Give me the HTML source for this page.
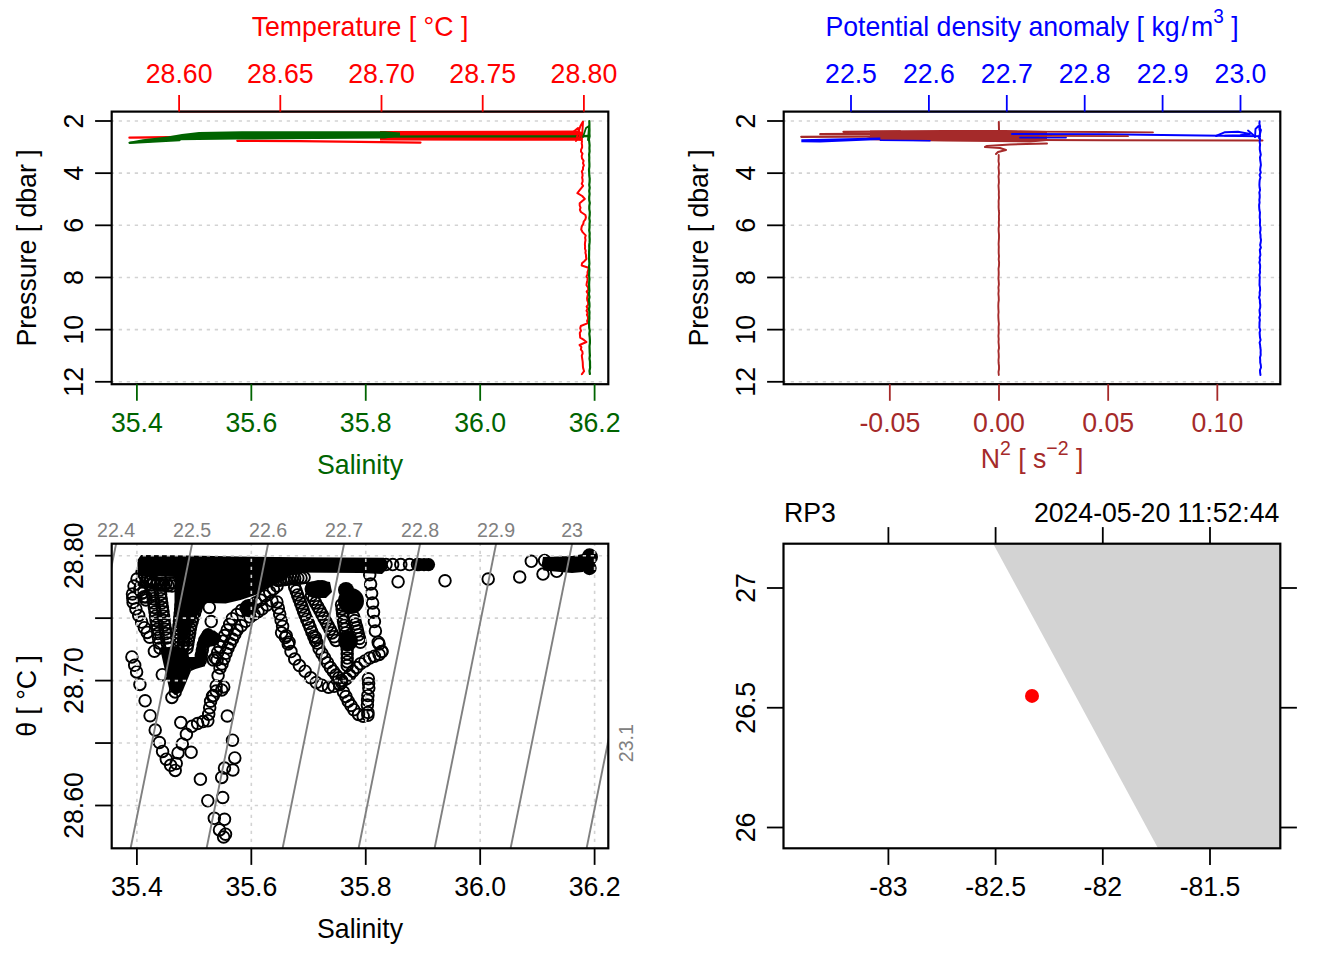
<!DOCTYPE html>
<html><head><meta charset="utf-8"><style>
html,body{margin:0;padding:0;background:#fff;overflow:hidden}
svg{display:block}
text{font-family:"Liberation Sans",sans-serif;dominant-baseline:auto}
</style></head><body>
<svg width="1344" height="960" viewBox="0 0 1344 960">
<rect x="0" y="0" width="1344" height="960" fill="#fff"/>
<line x1="111.70" y1="121.00" x2="608.30" y2="121.00" stroke="#d3d3d3" stroke-width="1.6" stroke-dasharray="3.3 4.7" stroke-dashoffset="0.95"/>
<line x1="111.70" y1="173.16" x2="608.30" y2="173.16" stroke="#d3d3d3" stroke-width="1.6" stroke-dasharray="3.3 4.7" stroke-dashoffset="0.95"/>
<line x1="111.70" y1="225.32" x2="608.30" y2="225.32" stroke="#d3d3d3" stroke-width="1.6" stroke-dasharray="3.3 4.7" stroke-dashoffset="0.95"/>
<line x1="111.70" y1="277.48" x2="608.30" y2="277.48" stroke="#d3d3d3" stroke-width="1.6" stroke-dasharray="3.3 4.7" stroke-dashoffset="0.95"/>
<line x1="111.70" y1="329.64" x2="608.30" y2="329.64" stroke="#d3d3d3" stroke-width="1.6" stroke-dasharray="3.3 4.7" stroke-dashoffset="0.95"/>
<line x1="111.70" y1="381.80" x2="608.30" y2="381.80" stroke="#d3d3d3" stroke-width="1.6" stroke-dasharray="3.3 4.7" stroke-dashoffset="0.95"/>
<line x1="95.10" y1="121.00" x2="111.70" y2="121.00" stroke="#000" stroke-width="1.8"/>
<text transform="translate(83.40 121.00) rotate(-90) scale(1 1.05)" font-size="26.67" fill="#000" text-anchor="middle">2</text>
<line x1="95.10" y1="173.16" x2="111.70" y2="173.16" stroke="#000" stroke-width="1.8"/>
<text transform="translate(83.40 173.16) rotate(-90) scale(1 1.05)" font-size="26.67" fill="#000" text-anchor="middle">4</text>
<line x1="95.10" y1="225.32" x2="111.70" y2="225.32" stroke="#000" stroke-width="1.8"/>
<text transform="translate(83.40 225.32) rotate(-90) scale(1 1.05)" font-size="26.67" fill="#000" text-anchor="middle">6</text>
<line x1="95.10" y1="277.48" x2="111.70" y2="277.48" stroke="#000" stroke-width="1.8"/>
<text transform="translate(83.40 277.48) rotate(-90) scale(1 1.05)" font-size="26.67" fill="#000" text-anchor="middle">8</text>
<line x1="95.10" y1="329.64" x2="111.70" y2="329.64" stroke="#000" stroke-width="1.8"/>
<text transform="translate(83.40 329.64) rotate(-90) scale(1 1.05)" font-size="26.67" fill="#000" text-anchor="middle">10</text>
<line x1="95.10" y1="381.80" x2="111.70" y2="381.80" stroke="#000" stroke-width="1.8"/>
<text transform="translate(83.40 381.80) rotate(-90) scale(1 1.05)" font-size="26.67" fill="#000" text-anchor="middle">12</text>
<text transform="translate(35.70 247.90) rotate(-90) scale(1 1.05)" font-size="26.67" fill="#000" text-anchor="middle">Pressure [ dbar ]</text>
<g id="tl-data"><polyline points="237.3,140.8 300.0,141.2 420.5,142.6" fill="none" stroke="#ff0000" stroke-width="2.2" stroke-linejoin="round" stroke-linecap="round"/><polyline points="129.5,137.6 167.6,137.2 181.0,137.0" fill="none" stroke="#ff0000" stroke-width="2.4" stroke-linejoin="round" stroke-linecap="round"/><polygon points="380.0,131.0 577.0,130.5 582.0,132.0 582.0,141.0 577.0,140.8 380.0,140.5" fill="#ff0000"/><polygon points="129.5,141.8 143.0,139.2 167.6,136.6 181.9,134.0 199.0,132.0 242.0,131.3 385.0,131.3 400.0,132.5 400.0,136.0 385.0,138.5 280.0,139.2 236.7,139.6 179.5,140.2 129.5,143.4" fill="#006400"/><polyline points="385.0,136.6 440.0,136.4 575.0,136.4 589.0,136.0" fill="none" stroke="#006400" stroke-width="2.4" stroke-linejoin="round" stroke-linecap="round"/><polyline points="129.5,142.8 179.5,140.2" fill="none" stroke="#006400" stroke-width="2.2" stroke-linejoin="round" stroke-linecap="round"/><polyline points="581.4,139.2 582.0,141.3 581.7,143.3 582.1,145.4 582.1,147.5 581.1,149.6 581.0,151.6 582.5,153.7 581.7,156.0 582.0,158.4 583.6,160.7 583.0,163.1 583.9,165.4 583.0,167.4 583.0,169.5 581.8,171.5 582.4,173.6 582.6,175.6 582.1,177.6 582.6,179.7 582.6,181.7 581.7,183.8 583.1,185.8 581.3,188.2 579.3,190.7 577.4,193.1 582.2,196.0 584.8,198.9 582.3,201.1 579.7,203.3 579.7,205.5 580.5,207.7 579.9,209.8 580.9,212.0 585.4,215.0 585.9,217.2 585.4,219.3 583.7,221.5 583.3,223.7 581.7,226.6 581.2,229.5 582.8,232.4 585.7,235.4 585.1,237.7 585.5,240.0 585.1,242.2 584.9,244.3 585.1,246.5 585.0,248.7 585.7,250.8 585.4,252.8 586.0,254.9 586.0,256.9 586.4,259.0 584.3,261.2 582.0,263.3 581.7,265.5 588.5,267.7 588.3,269.9 587.5,272.0 587.6,274.2 586.5,276.4 587.7,278.6 587.3,280.8 586.8,283.0 586.5,285.2 588.0,287.4 588.3,289.5 586.7,291.7 588.1,293.9 587.5,296.1 587.1,298.3 587.3,300.4 588.1,302.4 588.2,304.5 586.6,306.6 587.6,308.6 586.5,310.7 587.7,312.8 586.9,314.8 587.9,316.9 588.0,319.0 587.1,321.0 587.9,323.1 580.8,326.0 580.2,328.3 581.0,330.7 579.8,333.0 580.0,335.4 580.2,337.7 583.9,339.9 586.4,342.0 579.6,345.0 581.4,347.2 580.8,349.4 582.4,351.5 582.6,353.7 581.8,355.7 582.1,357.8 582.4,359.8 582.7,361.9 582.8,363.9 582.9,366.3 583.3,368.8 584.1,371.2 581.9,374.1" fill="none" stroke="#ff0000" stroke-width="2.0" stroke-linejoin="round" stroke-linecap="round"/><polyline points="577.0,137.0 580.4,126.0 583.0,121.5 581.9,139.2" fill="none" stroke="#ff0000" stroke-width="2.0" stroke-linejoin="round" stroke-linecap="round"/><polyline points="572.0,133.0 578.0,128.0 580.0,136.0 576.0,141.0" fill="none" stroke="#ff0000" stroke-width="2.0" stroke-linejoin="round" stroke-linecap="round"/><polyline points="589.3,121.0 589.4,124.0 589.4,127.1 589.5,130.1 589.4,133.2 589.6,136.2 588.9,139.2 589.3,142.3 589.6,145.3 589.4,148.3 589.6,151.4 589.1,154.4 589.3,157.5 589.2,160.5 589.4,163.5 589.4,166.6 589.0,169.6 589.2,172.7 589.3,175.7 589.7,178.7 589.6,181.8 589.2,184.8 589.7,187.8 589.2,190.9 589.6,193.9 589.2,197.0 589.2,200.0 589.8,203.0 589.3,206.1 589.3,209.1 589.8,212.1 589.7,215.2 589.3,218.2 589.8,221.2 589.5,224.2 589.5,227.3 589.2,230.3 589.7,233.3 589.5,236.4 589.7,239.4 589.6,242.4 589.2,245.5 589.3,248.5 589.1,251.5 589.1,254.5 589.0,257.6 589.2,260.6 589.4,263.6 589.0,266.7 589.4,269.7 589.2,272.7 589.1,275.8 589.5,278.8 589.2,281.8 589.1,284.8 589.2,287.9 589.4,290.9 588.9,293.9 589.5,297.0 588.9,300.0 589.4,303.1 589.5,306.2 589.0,309.2 589.5,312.3 589.3,315.4 589.4,318.5 589.1,321.6 589.1,324.7 589.2,327.8 589.8,330.8 589.3,333.9 589.7,337.0 589.9,340.1 589.9,343.2 589.5,346.2 589.6,349.3 589.7,352.4 589.9,355.5 589.5,358.6 590.0,361.7 590.0,364.8 590.1,367.8 589.5,370.9 589.9,374.0" fill="none" stroke="#006400" stroke-width="2.2" stroke-linejoin="round" stroke-linecap="round"/><polyline points="583.0,137.0 586.0,128.0 589.0,126.0 588.0,140.0" fill="none" stroke="#006400" stroke-width="1.8" stroke-linejoin="round" stroke-linecap="round"/></g>
<line x1="179.10" y1="111.60" x2="583.90" y2="111.60" stroke="#ff0000" stroke-width="1.8"/>
<line x1="136.90" y1="384.20" x2="594.60" y2="384.20" stroke="#006400" stroke-width="1.8"/>
<rect x="111.70" y="111.60" width="496.60" height="272.60" stroke="#000" stroke-width="2.2" fill="none"/>
<line x1="179.10" y1="111.60" x2="179.10" y2="95.00" stroke="#ff0000" stroke-width="1.8"/>
<text transform="translate(179.10 82.50) scale(1 1.05)" font-size="26.67" fill="#ff0000" text-anchor="middle">28.60</text>
<line x1="280.30" y1="111.60" x2="280.30" y2="95.00" stroke="#ff0000" stroke-width="1.8"/>
<text transform="translate(280.30 82.50) scale(1 1.05)" font-size="26.67" fill="#ff0000" text-anchor="middle">28.65</text>
<line x1="381.50" y1="111.60" x2="381.50" y2="95.00" stroke="#ff0000" stroke-width="1.8"/>
<text transform="translate(381.50 82.50) scale(1 1.05)" font-size="26.67" fill="#ff0000" text-anchor="middle">28.70</text>
<line x1="482.70" y1="111.60" x2="482.70" y2="95.00" stroke="#ff0000" stroke-width="1.8"/>
<text transform="translate(482.70 82.50) scale(1 1.05)" font-size="26.67" fill="#ff0000" text-anchor="middle">28.75</text>
<line x1="583.90" y1="111.60" x2="583.90" y2="95.00" stroke="#ff0000" stroke-width="1.8"/>
<text transform="translate(583.90 82.50) scale(1 1.05)" font-size="26.67" fill="#ff0000" text-anchor="middle">28.80</text>
<text transform="translate(360.00 35.70) scale(1 1.05)" font-size="26.67" fill="#ff0000" text-anchor="middle">Temperature [ °C ]</text>
<line x1="136.90" y1="384.20" x2="136.90" y2="400.80" stroke="#006400" stroke-width="1.8"/>
<text transform="translate(136.90 431.70) scale(1 1.05)" font-size="26.67" fill="#006400" text-anchor="middle">35.4</text>
<line x1="251.33" y1="384.20" x2="251.33" y2="400.80" stroke="#006400" stroke-width="1.8"/>
<text transform="translate(251.33 431.70) scale(1 1.05)" font-size="26.67" fill="#006400" text-anchor="middle">35.6</text>
<line x1="365.75" y1="384.20" x2="365.75" y2="400.80" stroke="#006400" stroke-width="1.8"/>
<text transform="translate(365.75 431.70) scale(1 1.05)" font-size="26.67" fill="#006400" text-anchor="middle">35.8</text>
<line x1="480.18" y1="384.20" x2="480.18" y2="400.80" stroke="#006400" stroke-width="1.8"/>
<text transform="translate(480.18 431.70) scale(1 1.05)" font-size="26.67" fill="#006400" text-anchor="middle">36.0</text>
<line x1="594.60" y1="384.20" x2="594.60" y2="400.80" stroke="#006400" stroke-width="1.8"/>
<text transform="translate(594.60 431.70) scale(1 1.05)" font-size="26.67" fill="#006400" text-anchor="middle">36.2</text>
<text transform="translate(360.00 473.70) scale(1 1.05)" font-size="26.67" fill="#006400" text-anchor="middle">Salinity</text>
<line x1="783.70" y1="121.00" x2="1280.30" y2="121.00" stroke="#d3d3d3" stroke-width="1.6" stroke-dasharray="3.3 4.7" stroke-dashoffset="0.95"/>
<line x1="783.70" y1="173.16" x2="1280.30" y2="173.16" stroke="#d3d3d3" stroke-width="1.6" stroke-dasharray="3.3 4.7" stroke-dashoffset="0.95"/>
<line x1="783.70" y1="225.32" x2="1280.30" y2="225.32" stroke="#d3d3d3" stroke-width="1.6" stroke-dasharray="3.3 4.7" stroke-dashoffset="0.95"/>
<line x1="783.70" y1="277.48" x2="1280.30" y2="277.48" stroke="#d3d3d3" stroke-width="1.6" stroke-dasharray="3.3 4.7" stroke-dashoffset="0.95"/>
<line x1="783.70" y1="329.64" x2="1280.30" y2="329.64" stroke="#d3d3d3" stroke-width="1.6" stroke-dasharray="3.3 4.7" stroke-dashoffset="0.95"/>
<line x1="783.70" y1="381.80" x2="1280.30" y2="381.80" stroke="#d3d3d3" stroke-width="1.6" stroke-dasharray="3.3 4.7" stroke-dashoffset="0.95"/>
<line x1="767.10" y1="121.00" x2="783.70" y2="121.00" stroke="#000" stroke-width="1.8"/>
<text transform="translate(755.40 121.00) rotate(-90) scale(1 1.05)" font-size="26.67" fill="#000" text-anchor="middle">2</text>
<line x1="767.10" y1="173.16" x2="783.70" y2="173.16" stroke="#000" stroke-width="1.8"/>
<text transform="translate(755.40 173.16) rotate(-90) scale(1 1.05)" font-size="26.67" fill="#000" text-anchor="middle">4</text>
<line x1="767.10" y1="225.32" x2="783.70" y2="225.32" stroke="#000" stroke-width="1.8"/>
<text transform="translate(755.40 225.32) rotate(-90) scale(1 1.05)" font-size="26.67" fill="#000" text-anchor="middle">6</text>
<line x1="767.10" y1="277.48" x2="783.70" y2="277.48" stroke="#000" stroke-width="1.8"/>
<text transform="translate(755.40 277.48) rotate(-90) scale(1 1.05)" font-size="26.67" fill="#000" text-anchor="middle">8</text>
<line x1="767.10" y1="329.64" x2="783.70" y2="329.64" stroke="#000" stroke-width="1.8"/>
<text transform="translate(755.40 329.64) rotate(-90) scale(1 1.05)" font-size="26.67" fill="#000" text-anchor="middle">10</text>
<line x1="767.10" y1="381.80" x2="783.70" y2="381.80" stroke="#000" stroke-width="1.8"/>
<text transform="translate(755.40 381.80) rotate(-90) scale(1 1.05)" font-size="26.67" fill="#000" text-anchor="middle">12</text>
<text transform="translate(707.70 247.90) rotate(-90) scale(1 1.05)" font-size="26.67" fill="#000" text-anchor="middle">Pressure [ dbar ]</text>
<g id="tr-data"><polyline points="801.3,136.8 850.0,136.6 900.0,136.4" fill="none" stroke="#a52a2a" stroke-width="2.3" stroke-linejoin="round" stroke-linecap="round"/><polyline points="820.3,134.2 860.0,134.0 900.0,133.8" fill="none" stroke="#a52a2a" stroke-width="2.3" stroke-linejoin="round" stroke-linecap="round"/><polyline points="843.5,131.8 880.0,131.6 900.0,131.4" fill="none" stroke="#a52a2a" stroke-width="2.3" stroke-linejoin="round" stroke-linecap="round"/><polygon points="870.0,130.6 944.0,130.0 1005.0,130.0 1047.0,131.0 1047.0,141.0 1030.0,142.5 944.0,141.5 880.0,140.6 860.0,139.5 870.0,137.0" fill="#a52a2a"/><polygon points="801.3,139.2 880.4,137.5 880.4,140.0 820.0,142.5 801.3,142.2" fill="#0000ff"/><polyline points="880.4,140.2 930.0,140.8" fill="none" stroke="#0000ff" stroke-width="1.6" stroke-linejoin="round" stroke-linecap="round"/><polyline points="1047.0,143.5 1010.0,144.5 987.0,146.0 985.0,147.0 1000.0,148.0 1006.0,150.0 998.0,152.0 996.0,154.0" fill="none" stroke="#a52a2a" stroke-width="2.0" stroke-linejoin="round" stroke-linecap="round"/><polyline points="998.8,122.0 999.0,130.0" fill="none" stroke="#a52a2a" stroke-width="2.0" stroke-linejoin="round" stroke-linecap="round"/><polyline points="1020.0,131.6 1104.0,132.0 1153.0,132.3" fill="none" stroke="#a52a2a" stroke-width="1.8" stroke-linejoin="round" stroke-linecap="round"/><polyline points="1012.0,134.0 1104.0,134.2 1260.0,136.2" fill="none" stroke="#0000ff" stroke-width="2.0" stroke-linejoin="round" stroke-linecap="round"/><polyline points="1020.0,137.6 1066.0,137.6" fill="none" stroke="#0000ff" stroke-width="1.8" stroke-linejoin="round" stroke-linecap="round"/><polyline points="1040.0,135.8 1128.0,136.2" fill="none" stroke="#a52a2a" stroke-width="1.8" stroke-linejoin="round" stroke-linecap="round"/><polyline points="1040.0,140.0 1104.0,140.2 1262.5,140.5" fill="none" stroke="#a52a2a" stroke-width="2.0" stroke-linejoin="round" stroke-linecap="round"/><polyline points="1216.0,136.0 1225.0,132.2 1238.0,131.8 1250.0,134.0 1240.0,135.2 1225.0,135.6" fill="none" stroke="#0000ff" stroke-width="1.9" stroke-linejoin="round" stroke-linecap="round"/><polyline points="1248.0,130.5 1251.0,133.0 1255.0,136.5" fill="none" stroke="#0000ff" stroke-width="1.9" stroke-linejoin="round" stroke-linecap="round"/><polyline points="1255.0,137.0 1255.5,129.0 1258.5,126.0 1261.0,130.0 1259.0,138.0" fill="none" stroke="#0000ff" stroke-width="1.9" stroke-linejoin="round" stroke-linecap="round"/><polyline points="1259.6,121.2 1259.4,123.8 1260.1,126.4 1259.4,129.0 1260.0,131.5 1259.9,134.1 1259.5,136.7 1260.1,139.3 1259.6,141.9 1260.1,144.5 1259.8,147.1 1259.8,149.7 1260.3,152.2 1260.8,154.8 1260.0,157.4 1260.2,160.0 1260.6,162.5 1260.9,165.0 1260.4,167.5 1260.1,170.0 1260.8,172.5 1259.6,175.0 1260.5,177.5 1259.7,180.0 1259.5,182.5 1259.4,185.0 1259.6,187.5 1260.1,190.0 1259.3,192.5 1259.7,195.0 1259.7,197.5 1259.3,200.0 1259.6,202.5 1259.1,205.0 1259.2,207.5 1259.4,210.0 1260.0,212.5 1259.8,215.0 1259.7,217.5 1260.1,220.0 1260.0,222.5 1259.9,225.0 1260.5,227.5 1260.5,230.0 1260.0,232.5 1260.5,235.0 1260.5,237.5 1261.0,240.0 1260.7,242.5 1260.1,245.0 1260.9,247.5 1259.8,250.0 1260.1,252.5 1260.4,255.0 1259.6,257.5 1260.0,260.0 1259.4,262.5 1260.1,265.0 1260.1,267.5 1259.8,270.0 1260.1,272.5 1259.4,275.0 1259.8,277.5 1259.6,280.0 1259.6,282.5 1259.5,285.0 1260.0,287.5 1260.1,290.0 1259.6,292.5 1259.8,295.0 1259.1,297.5 1259.9,300.0 1259.9,302.5 1260.3,305.0 1260.2,307.5 1259.5,310.0 1259.7,312.5 1260.1,315.0 1259.3,317.5 1259.9,320.0 1259.5,322.5 1259.5,325.0 1259.4,327.5 1260.3,330.0 1259.6,332.5 1259.8,335.0 1260.0,337.5 1260.6,340.0 1259.6,342.5 1260.1,345.0 1260.3,347.5 1260.7,350.0 1260.6,352.5 1260.7,355.0 1260.0,357.5 1260.2,360.0 1260.2,362.5 1260.8,365.0 1261.0,367.5 1260.0,370.0 1260.1,372.5 1260.5,375.0" fill="none" stroke="#0000ff" stroke-width="2.0" stroke-linejoin="round" stroke-linecap="round"/><polyline points="998.7,155.0 998.7,158.1 998.5,161.1 999.0,164.2 998.5,167.3 998.8,170.3 999.0,173.4 998.5,176.5 998.8,179.5 998.9,182.6 998.5,185.6 998.7,188.7 998.9,191.8 998.8,194.8 999.0,197.9 998.6,201.0 998.7,204.0 998.6,207.1 998.8,210.2 999.1,213.2 998.9,216.3 999.0,219.4 998.8,222.4 999.0,225.5 998.6,228.5 998.7,231.6 999.0,234.7 999.0,237.7 998.8,240.8 998.6,243.9 998.8,246.9 998.7,250.0 998.7,253.1 999.0,256.2 998.7,259.4 999.1,262.5 999.0,265.6 998.5,268.8 998.7,271.9 998.7,275.0 998.4,278.1 998.7,281.2 998.9,284.4 998.4,287.5 998.7,290.6 998.4,293.8 998.7,296.9 998.8,300.0 998.4,303.0 998.3,306.0 998.4,309.0 998.6,312.0 998.3,315.0 998.4,318.0 998.6,321.0 998.9,324.0 998.6,327.0 998.6,330.0 998.7,333.0 998.4,336.0 998.7,339.0 998.5,342.0 998.8,345.0 999.0,348.0 998.4,351.0 998.7,354.0 998.8,357.0 998.5,360.0 998.6,363.0 999.0,366.0 999.0,369.0 998.5,372.0 998.8,375.0" fill="none" stroke="#a52a2a" stroke-width="1.9" stroke-linejoin="round" stroke-linecap="round"/></g>
<line x1="851.00" y1="111.60" x2="1240.50" y2="111.60" stroke="#0000ff" stroke-width="1.8"/>
<line x1="889.83" y1="384.20" x2="1217.33" y2="384.20" stroke="#a52a2a" stroke-width="1.8"/>
<rect x="783.70" y="111.60" width="496.60" height="272.60" stroke="#000" stroke-width="2.2" fill="none"/>
<line x1="851.00" y1="111.60" x2="851.00" y2="95.00" stroke="#0000ff" stroke-width="1.8"/>
<text transform="translate(851.00 82.50) scale(1 1.05)" font-size="26.67" fill="#0000ff" text-anchor="middle">22.5</text>
<line x1="928.90" y1="111.60" x2="928.90" y2="95.00" stroke="#0000ff" stroke-width="1.8"/>
<text transform="translate(928.90 82.50) scale(1 1.05)" font-size="26.67" fill="#0000ff" text-anchor="middle">22.6</text>
<line x1="1006.80" y1="111.60" x2="1006.80" y2="95.00" stroke="#0000ff" stroke-width="1.8"/>
<text transform="translate(1006.80 82.50) scale(1 1.05)" font-size="26.67" fill="#0000ff" text-anchor="middle">22.7</text>
<line x1="1084.70" y1="111.60" x2="1084.70" y2="95.00" stroke="#0000ff" stroke-width="1.8"/>
<text transform="translate(1084.70 82.50) scale(1 1.05)" font-size="26.67" fill="#0000ff" text-anchor="middle">22.8</text>
<line x1="1162.60" y1="111.60" x2="1162.60" y2="95.00" stroke="#0000ff" stroke-width="1.8"/>
<text transform="translate(1162.60 82.50) scale(1 1.05)" font-size="26.67" fill="#0000ff" text-anchor="middle">22.9</text>
<line x1="1240.50" y1="111.60" x2="1240.50" y2="95.00" stroke="#0000ff" stroke-width="1.8"/>
<text transform="translate(1240.50 82.50) scale(1 1.05)" font-size="26.67" fill="#0000ff" text-anchor="middle">23.0</text>
<text transform="translate(1032.00 35.70) scale(1 1.05)" font-size="26.67" fill="#0000ff" text-anchor="middle">Potential density anomaly [ kg<tspan dx="2">/</tspan><tspan dx="2">m</tspan><tspan font-size="19" dy="-12.5">3</tspan><tspan dy="12.5"> ]</tspan></text>
<line x1="889.83" y1="384.20" x2="889.83" y2="400.80" stroke="#a52a2a" stroke-width="1.8"/>
<text transform="translate(889.83 431.70) scale(1 1.05)" font-size="26.67" fill="#a52a2a" text-anchor="middle">-0.05</text>
<line x1="999.00" y1="384.20" x2="999.00" y2="400.80" stroke="#a52a2a" stroke-width="1.8"/>
<text transform="translate(999.00 431.70) scale(1 1.05)" font-size="26.67" fill="#a52a2a" text-anchor="middle">0.00</text>
<line x1="1108.17" y1="384.20" x2="1108.17" y2="400.80" stroke="#a52a2a" stroke-width="1.8"/>
<text transform="translate(1108.17 431.70) scale(1 1.05)" font-size="26.67" fill="#a52a2a" text-anchor="middle">0.05</text>
<line x1="1217.33" y1="384.20" x2="1217.33" y2="400.80" stroke="#a52a2a" stroke-width="1.8"/>
<text transform="translate(1217.33 431.70) scale(1 1.05)" font-size="26.67" fill="#a52a2a" text-anchor="middle">0.10</text>
<text transform="translate(1032.00 468.00) scale(1 1.05)" font-size="26.67" fill="#a52a2a" text-anchor="middle">N<tspan font-size="19.5" dy="-12.5">2</tspan><tspan dy="12.5"> [ s</tspan><tspan font-size="19.5" dy="-12.5">−2</tspan><tspan dy="12.5"> ]</tspan></text>
<clipPath id="blclip"><rect x="111.7" y="543.7" width="496.59999999999997" height="304.5999999999999"/></clipPath>
<g id="bl-data" clip-path="url(#blclip)"><polygon points="137.5,560.0 141.0,555.0 176.0,555.3 240.0,556.5 300.0,557.3 384.0,557.8 387.0,561.0 387.0,569.0 382.0,574.0 360.0,573.0 292.0,572.5 285.3,580.0 270.4,587.0 255.5,595.0 240.6,600.0 225.8,603.5 205.7,603.0 202.7,606.0 195.0,620.0 186.0,640.0 178.0,640.0 174.5,605.0 174.5,577.0 160.0,576.0 140.0,576.0 137.5,572.0" fill="#000"/><polygon points="160.0,648.0 176.0,646.0 188.0,650.0 191.0,671.0 182.5,691.6 175.0,695.3 169.4,689.7 163.0,662.0" fill="#000"/><polygon points="186.2,657.0 195.6,656.9 198.4,638.1 203.1,630.6 214.4,630.6 221.9,636.3 218.0,645.0 206.9,647.5 205.0,666.3 195.6,669.0 191.0,670.9" fill="#000"/><polygon points="543.0,557.0 572.0,556.0 583.0,554.0 583.0,572.0 572.0,573.0 543.4,570.5 541.8,564.1" fill="#000"/><polygon points="306.0,583.0 318.0,580.0 330.0,582.0 332.0,592.0 326.0,598.0 312.0,598.0 306.0,594.0" fill="#000"/><circle cx="419" cy="564.6" r="6.6" fill="#000"/><circle cx="424" cy="564.6" r="6.6" fill="#000"/><circle cx="428.5" cy="564.6" r="6.6" fill="#000"/><circle cx="312" cy="589" r="7.5" fill="#000"/><circle cx="322" cy="588" r="8" fill="#000"/><circle cx="346" cy="590" r="8" fill="#000"/><circle cx="351" cy="601" r="13" fill="#000"/><circle cx="562" cy="563.5" r="7" fill="#000"/><circle cx="575" cy="564" r="7.5" fill="#000"/><circle cx="583" cy="563" r="8" fill="#000"/><circle cx="589.5" cy="555.5" r="7.2" fill="#000"/><circle cx="589.5" cy="568" r="7.2" fill="#000"/><circle cx="348" cy="641" r="10" fill="#000"/><circle cx="248.5" cy="608" r="9" fill="#000"/><circle cx="590" cy="557" r="8" fill="#000"/><circle cx="208" cy="634" r="6" fill="#000"/><g fill="none" stroke="#000" stroke-width="1.9"><circle cx="137.0" cy="579.0" r="5.8"/><circle cx="134.0" cy="586.0" r="5.8"/><circle cx="132.5" cy="594.0" r="5.8"/><circle cx="132.8" cy="598.2" r="5.8"/><circle cx="133.1" cy="602.4" r="5.8"/><circle cx="135.9" cy="608.9" r="5.8"/><circle cx="138.7" cy="615.5" r="5.8"/><circle cx="141.6" cy="622.1" r="5.8"/><circle cx="144.4" cy="627.7" r="5.8"/><circle cx="147.2" cy="632.4" r="5.8"/><circle cx="149.7" cy="637.2" r="5.8"/><circle cx="142.0" cy="572.0" r="5.8"/><circle cx="144.7" cy="575.3" r="5.8"/><circle cx="147.3" cy="578.7" r="5.8"/><circle cx="150.0" cy="582.0" r="5.8"/><circle cx="153.3" cy="583.0" r="5.8"/><circle cx="156.7" cy="584.0" r="5.8"/><circle cx="160.0" cy="585.0" r="5.8"/><circle cx="164.0" cy="585.3" r="5.8"/><circle cx="168.0" cy="585.7" r="5.8"/><circle cx="172.0" cy="586.0" r="5.8"/><circle cx="140.0" cy="590.0" r="5.8"/><circle cx="142.0" cy="593.3" r="5.8"/><circle cx="144.0" cy="596.7" r="5.8"/><circle cx="146.0" cy="600.0" r="5.8"/><circle cx="151.0" cy="580.0" r="5.8"/><circle cx="151.5" cy="585.0" r="5.8"/><circle cx="152.0" cy="590.0" r="5.8"/><circle cx="152.6" cy="594.4" r="5.8"/><circle cx="153.2" cy="598.7" r="5.8"/><circle cx="153.8" cy="603.1" r="5.8"/><circle cx="154.4" cy="607.5" r="5.8"/><circle cx="155.0" cy="611.8" r="5.8"/><circle cx="155.5" cy="616.2" r="5.8"/><circle cx="156.1" cy="620.5" r="5.8"/><circle cx="156.7" cy="624.9" r="5.8"/><circle cx="157.3" cy="629.3" r="5.8"/><circle cx="157.9" cy="633.6" r="5.8"/><circle cx="158.5" cy="638.0" r="5.8"/><circle cx="159.2" cy="643.0" r="5.8"/><circle cx="160.0" cy="648.0" r="5.8"/><circle cx="161.0" cy="580.0" r="5.8"/><circle cx="160.5" cy="585.0" r="5.8"/><circle cx="160.0" cy="590.0" r="5.8"/><circle cx="160.6" cy="594.4" r="5.8"/><circle cx="161.2" cy="598.7" r="5.8"/><circle cx="161.8" cy="603.1" r="5.8"/><circle cx="162.4" cy="607.5" r="5.8"/><circle cx="163.0" cy="611.8" r="5.8"/><circle cx="163.5" cy="616.2" r="5.8"/><circle cx="164.1" cy="620.5" r="5.8"/><circle cx="164.7" cy="624.9" r="5.8"/><circle cx="165.3" cy="629.3" r="5.8"/><circle cx="165.9" cy="633.6" r="5.8"/><circle cx="166.5" cy="638.0" r="5.8"/><circle cx="167.2" cy="643.0" r="5.8"/><circle cx="168.0" cy="648.0" r="5.8"/><circle cx="181.0" cy="605.0" r="5.8"/><circle cx="180.6" cy="609.0" r="5.8"/><circle cx="180.2" cy="613.0" r="5.8"/><circle cx="179.8" cy="617.0" r="5.8"/><circle cx="179.4" cy="621.0" r="5.8"/><circle cx="179.0" cy="625.0" r="5.8"/><circle cx="178.8" cy="628.8" r="5.8"/><circle cx="178.7" cy="632.7" r="5.8"/><circle cx="178.5" cy="636.5" r="5.8"/><circle cx="178.3" cy="640.3" r="5.8"/><circle cx="178.2" cy="644.2" r="5.8"/><circle cx="178.0" cy="648.0" r="5.8"/><circle cx="189.0" cy="605.0" r="5.8"/><circle cx="188.2" cy="609.0" r="5.8"/><circle cx="187.4" cy="613.0" r="5.8"/><circle cx="186.6" cy="617.0" r="5.8"/><circle cx="185.8" cy="621.0" r="5.8"/><circle cx="185.0" cy="625.0" r="5.8"/><circle cx="184.7" cy="628.8" r="5.8"/><circle cx="184.3" cy="632.7" r="5.8"/><circle cx="184.0" cy="636.5" r="5.8"/><circle cx="183.7" cy="640.3" r="5.8"/><circle cx="183.3" cy="644.2" r="5.8"/><circle cx="183.0" cy="648.0" r="5.8"/><circle cx="197.0" cy="605.0" r="5.8"/><circle cx="195.8" cy="609.0" r="5.8"/><circle cx="194.6" cy="613.0" r="5.8"/><circle cx="193.4" cy="617.0" r="5.8"/><circle cx="192.2" cy="621.0" r="5.8"/><circle cx="191.0" cy="625.0" r="5.8"/><circle cx="190.3" cy="628.8" r="5.8"/><circle cx="189.7" cy="632.7" r="5.8"/><circle cx="189.0" cy="636.5" r="5.8"/><circle cx="188.3" cy="640.3" r="5.8"/><circle cx="187.7" cy="644.2" r="5.8"/><circle cx="187.0" cy="648.0" r="5.8"/><circle cx="142.0" cy="580.0" r="5.8"/><circle cx="146.0" cy="580.8" r="5.8"/><circle cx="150.0" cy="581.5" r="5.8"/><circle cx="154.0" cy="582.2" r="5.8"/><circle cx="158.0" cy="583.0" r="5.8"/><circle cx="162.0" cy="583.0" r="5.8"/><circle cx="166.0" cy="583.0" r="5.8"/><circle cx="170.0" cy="583.0" r="5.8"/><circle cx="174.0" cy="583.0" r="5.8"/><circle cx="140.0" cy="588.0" r="5.8"/><circle cx="143.0" cy="592.5" r="5.8"/><circle cx="146.0" cy="597.0" r="5.8"/><circle cx="386.0" cy="564.6" r="5.8"/><circle cx="392.7" cy="564.6" r="5.8"/><circle cx="400.8" cy="564.6" r="5.8"/><circle cx="409.5" cy="564.6" r="5.8"/><circle cx="417.5" cy="564.6" r="5.8"/><circle cx="277.9" cy="580.4" r="5.8"/><circle cx="280.4" cy="580.1" r="5.8"/><circle cx="282.9" cy="579.7" r="5.8"/><circle cx="285.4" cy="579.4" r="5.8"/><circle cx="288.5" cy="579.1" r="5.8"/><circle cx="291.6" cy="578.8" r="5.8"/><circle cx="294.7" cy="578.5" r="5.8"/><circle cx="297.8" cy="578.2" r="5.8"/><circle cx="301.0" cy="577.9" r="5.8"/><circle cx="304.1" cy="577.6" r="5.8"/><circle cx="213.4" cy="660.0" r="5.8"/><circle cx="215.4" cy="658.1" r="5.8"/><circle cx="217.7" cy="652.5" r="5.8"/><circle cx="220.1" cy="646.9" r="5.8"/><circle cx="222.4" cy="641.2" r="5.8"/><circle cx="224.7" cy="635.6" r="5.8"/><circle cx="227.2" cy="630.0" r="5.8"/><circle cx="229.7" cy="624.3" r="5.8"/><circle cx="232.2" cy="618.7" r="5.8"/><circle cx="236.9" cy="614.5" r="5.8"/><circle cx="241.6" cy="610.3" r="5.8"/><circle cx="246.3" cy="608.0" r="5.8"/><circle cx="251.0" cy="605.6" r="5.8"/><circle cx="255.7" cy="602.8" r="5.8"/><circle cx="260.4" cy="600.0" r="5.8"/><circle cx="265.0" cy="596.0" r="5.8"/><circle cx="269.7" cy="592.0" r="5.8"/><circle cx="273.4" cy="589.0" r="5.8"/><circle cx="277.0" cy="586.0" r="5.8"/><circle cx="222.0" cy="664.0" r="5.8"/><circle cx="224.0" cy="658.7" r="5.8"/><circle cx="226.0" cy="653.3" r="5.8"/><circle cx="228.0" cy="648.0" r="5.8"/><circle cx="230.2" cy="643.5" r="5.8"/><circle cx="232.5" cy="639.0" r="5.8"/><circle cx="234.8" cy="634.5" r="5.8"/><circle cx="237.0" cy="630.0" r="5.8"/><circle cx="241.3" cy="625.7" r="5.8"/><circle cx="245.7" cy="621.3" r="5.8"/><circle cx="250.0" cy="617.0" r="5.8"/><circle cx="254.0" cy="614.3" r="5.8"/><circle cx="258.0" cy="611.7" r="5.8"/><circle cx="262.0" cy="609.0" r="5.8"/><circle cx="267.0" cy="605.0" r="5.8"/><circle cx="272.0" cy="601.0" r="5.8"/><circle cx="276.9" cy="601.9" r="5.8"/><circle cx="278.3" cy="608.0" r="5.8"/><circle cx="279.7" cy="614.1" r="5.8"/><circle cx="281.1" cy="620.2" r="5.8"/><circle cx="282.6" cy="626.3" r="5.8"/><circle cx="286.3" cy="635.7" r="5.8"/><circle cx="289.1" cy="642.2" r="5.8"/><circle cx="281.6" cy="632.8" r="5.8"/><circle cx="285.4" cy="637.5" r="5.8"/><circle cx="288.2" cy="644.1" r="5.8"/><circle cx="291.0" cy="651.6" r="5.8"/><circle cx="294.7" cy="659.1" r="5.8"/><circle cx="299.4" cy="665.6" r="5.8"/><circle cx="305.1" cy="671.2" r="5.8"/><circle cx="310.7" cy="677.8" r="5.8"/><circle cx="316.3" cy="682.5" r="5.8"/><circle cx="321.9" cy="685.3" r="5.8"/><circle cx="328.5" cy="687.2" r="5.8"/><circle cx="334.1" cy="686.3" r="5.8"/><circle cx="339.7" cy="684.4" r="5.8"/><circle cx="339.7" cy="684.4" r="5.8"/><circle cx="343.5" cy="691.9" r="5.8"/><circle cx="345.9" cy="696.5" r="5.8"/><circle cx="348.2" cy="701.2" r="5.8"/><circle cx="351.0" cy="705.5" r="5.8"/><circle cx="353.8" cy="709.7" r="5.8"/><circle cx="358.5" cy="714.4" r="5.8"/><circle cx="363.2" cy="716.2" r="5.8"/><circle cx="367.9" cy="715.3" r="5.8"/><circle cx="294.7" cy="586.9" r="5.8"/><circle cx="296.2" cy="590.9" r="5.8"/><circle cx="297.6" cy="594.9" r="5.8"/><circle cx="299.1" cy="598.9" r="5.8"/><circle cx="300.6" cy="603.0" r="5.8"/><circle cx="302.1" cy="607.0" r="5.8"/><circle cx="303.5" cy="611.0" r="5.8"/><circle cx="305.0" cy="615.0" r="5.8"/><circle cx="306.7" cy="619.2" r="5.8"/><circle cx="308.5" cy="623.5" r="5.8"/><circle cx="310.2" cy="627.7" r="5.8"/><circle cx="311.9" cy="631.9" r="5.8"/><circle cx="313.7" cy="636.2" r="5.8"/><circle cx="315.4" cy="640.4" r="5.8"/><circle cx="311.6" cy="595.4" r="5.8"/><circle cx="313.7" cy="599.2" r="5.8"/><circle cx="315.7" cy="602.9" r="5.8"/><circle cx="317.8" cy="606.7" r="5.8"/><circle cx="319.9" cy="610.5" r="5.8"/><circle cx="321.9" cy="614.2" r="5.8"/><circle cx="324.0" cy="618.0" r="5.8"/><circle cx="326.0" cy="621.7" r="5.8"/><circle cx="328.0" cy="625.5" r="5.8"/><circle cx="330.0" cy="629.2" r="5.8"/><circle cx="332.0" cy="632.9" r="5.8"/><circle cx="334.0" cy="636.7" r="5.8"/><circle cx="336.0" cy="640.4" r="5.8"/><circle cx="315.4" cy="637.5" r="5.8"/><circle cx="317.2" cy="643.1" r="5.8"/><circle cx="319.1" cy="648.8" r="5.8"/><circle cx="321.9" cy="653.5" r="5.8"/><circle cx="324.7" cy="658.1" r="5.8"/><circle cx="327.5" cy="662.8" r="5.8"/><circle cx="330.4" cy="667.5" r="5.8"/><circle cx="333.2" cy="671.2" r="5.8"/><circle cx="336.0" cy="675.0" r="5.8"/><circle cx="338.8" cy="677.8" r="5.8"/><circle cx="341.6" cy="680.6" r="5.8"/><circle cx="341.6" cy="604.7" r="5.8"/><circle cx="342.1" cy="608.9" r="5.8"/><circle cx="342.6" cy="613.2" r="5.8"/><circle cx="343.0" cy="617.4" r="5.8"/><circle cx="343.5" cy="621.6" r="5.8"/><circle cx="344.2" cy="625.4" r="5.8"/><circle cx="345.0" cy="629.1" r="5.8"/><circle cx="345.7" cy="632.9" r="5.8"/><circle cx="346.5" cy="636.6" r="5.8"/><circle cx="347.2" cy="640.4" r="5.8"/><circle cx="347.2" cy="644.8" r="5.8"/><circle cx="347.2" cy="649.2" r="5.8"/><circle cx="347.2" cy="653.7" r="5.8"/><circle cx="347.2" cy="658.1" r="5.8"/><circle cx="347.2" cy="661.9" r="5.8"/><circle cx="347.2" cy="665.6" r="5.8"/><circle cx="353.8" cy="617.0" r="5.8"/><circle cx="354.8" cy="620.5" r="5.8"/><circle cx="355.7" cy="624.0" r="5.8"/><circle cx="356.7" cy="627.5" r="5.8"/><circle cx="357.6" cy="631.0" r="5.8"/><circle cx="358.5" cy="634.7" r="5.8"/><circle cx="359.5" cy="638.5" r="5.8"/><circle cx="360.4" cy="642.2" r="5.8"/><circle cx="369.7" cy="574.7" r="5.8"/><circle cx="370.6" cy="584.1" r="5.8"/><circle cx="371.6" cy="593.5" r="5.8"/><circle cx="372.6" cy="602.9" r="5.8"/><circle cx="373.5" cy="612.2" r="5.8"/><circle cx="374.4" cy="621.6" r="5.8"/><circle cx="375.4" cy="631.0" r="5.8"/><circle cx="378.2" cy="642.2" r="5.8"/><circle cx="379.1" cy="644.1" r="5.8"/><circle cx="381.9" cy="651.6" r="5.8"/><circle cx="381.9" cy="651.6" r="5.8"/><circle cx="379.1" cy="654.4" r="5.8"/><circle cx="374.4" cy="656.2" r="5.8"/><circle cx="369.7" cy="658.1" r="5.8"/><circle cx="365.0" cy="660.9" r="5.8"/><circle cx="360.4" cy="663.7" r="5.8"/><circle cx="356.6" cy="667.5" r="5.8"/><circle cx="352.9" cy="671.2" r="5.8"/><circle cx="349.6" cy="675.0" r="5.8"/><circle cx="346.3" cy="678.8" r="5.8"/><circle cx="341.6" cy="682.5" r="5.8"/><circle cx="368.3" cy="678.8" r="5.8"/><circle cx="368.6" cy="683.5" r="5.8"/><circle cx="368.8" cy="688.1" r="5.8"/><circle cx="367.9" cy="695.6" r="5.8"/><circle cx="367.6" cy="700.3" r="5.8"/><circle cx="367.4" cy="705.0" r="5.8"/><circle cx="367.9" cy="712.5" r="5.8"/><circle cx="203.2" cy="645.0" r="5.8"/><circle cx="202.3" cy="650.0" r="5.8"/><circle cx="201.3" cy="655.0" r="5.8"/><circle cx="200.4" cy="660.0" r="5.8"/><circle cx="217.2" cy="659.7" r="5.8"/><circle cx="220.0" cy="668.1" r="5.8"/><circle cx="218.1" cy="675.6" r="5.8"/><circle cx="216.2" cy="685.9" r="5.8"/><circle cx="213.4" cy="695.6" r="5.8"/><circle cx="210.6" cy="701.2" r="5.8"/><circle cx="209.7" cy="707.7" r="5.8"/><circle cx="208.7" cy="714.2" r="5.8"/><circle cx="207.8" cy="720.7" r="5.8"/><circle cx="203.1" cy="721.6" r="5.8"/><circle cx="197.6" cy="723.5" r="5.8"/><circle cx="192.0" cy="726.3" r="5.8"/><circle cx="209.3" cy="607.5" r="5.8"/><circle cx="211.2" cy="621.6" r="5.8"/><circle cx="154.4" cy="651.2" r="5.8"/><circle cx="162.3" cy="674.7" r="5.8"/><circle cx="131.9" cy="656.9" r="5.8"/><circle cx="134.7" cy="665.3" r="5.8"/><circle cx="136.6" cy="671.9" r="5.8"/><circle cx="139.9" cy="684.4" r="5.8"/><circle cx="145.1" cy="700.8" r="5.8"/><circle cx="150.1" cy="715.7" r="5.8"/><circle cx="155.2" cy="730.0" r="5.8"/><circle cx="159.4" cy="742.5" r="5.8"/><circle cx="162.6" cy="751.4" r="5.8"/><circle cx="166.3" cy="759.2" r="5.8"/><circle cx="170.6" cy="765.3" r="5.8"/><circle cx="175.2" cy="770.4" r="5.8"/><circle cx="176.2" cy="763.5" r="5.8"/><circle cx="178.0" cy="752.9" r="5.8"/><circle cx="182.3" cy="743.9" r="5.8"/><circle cx="186.4" cy="734.3" r="5.8"/><circle cx="180.8" cy="722.6" r="5.8"/><circle cx="191.1" cy="752.3" r="5.8"/><circle cx="171.9" cy="697.4" r="5.8"/><circle cx="175.2" cy="691.9" r="5.8"/><circle cx="216.2" cy="691.0" r="5.8"/><circle cx="221.7" cy="690.0" r="5.8"/><circle cx="212.5" cy="696.2" r="5.8"/><circle cx="223.7" cy="686.9" r="5.8"/><circle cx="227.3" cy="716.0" r="5.8"/><circle cx="232.5" cy="740.2" r="5.8"/><circle cx="234.8" cy="757.9" r="5.8"/><circle cx="232.9" cy="770.0" r="5.8"/><circle cx="224.5" cy="768.1" r="5.8"/><circle cx="221.7" cy="777.4" r="5.8"/><circle cx="200.4" cy="779.3" r="5.8"/><circle cx="207.8" cy="800.7" r="5.8"/><circle cx="222.7" cy="797.5" r="5.8"/><circle cx="214.3" cy="818.3" r="5.8"/><circle cx="224.5" cy="819.3" r="5.8"/><circle cx="219.5" cy="829.9" r="5.8"/><circle cx="225.5" cy="834.2" r="5.8"/><circle cx="223.6" cy="837.0" r="5.8"/><circle cx="398.1" cy="581.8" r="5.8"/><circle cx="445.0" cy="580.8" r="5.8"/><circle cx="488.2" cy="579.0" r="5.8"/><circle cx="519.7" cy="577.0" r="5.8"/><circle cx="531.3" cy="561.3" r="5.8"/><circle cx="543.0" cy="574.1" r="5.8"/><circle cx="556.7" cy="571.3" r="5.8"/><circle cx="544.6" cy="560.5" r="5.8"/></g></g>
<line x1="136.90" y1="543.70" x2="136.90" y2="848.30" stroke="#d3d3d3" stroke-width="1.6" stroke-dasharray="3.3 4.7" stroke-dashoffset="0.95"/>
<line x1="251.33" y1="543.70" x2="251.33" y2="848.30" stroke="#d3d3d3" stroke-width="1.6" stroke-dasharray="3.3 4.7" stroke-dashoffset="0.95"/>
<line x1="365.75" y1="543.70" x2="365.75" y2="848.30" stroke="#d3d3d3" stroke-width="1.6" stroke-dasharray="3.3 4.7" stroke-dashoffset="0.95"/>
<line x1="480.18" y1="543.70" x2="480.18" y2="848.30" stroke="#d3d3d3" stroke-width="1.6" stroke-dasharray="3.3 4.7" stroke-dashoffset="0.95"/>
<line x1="594.60" y1="543.70" x2="594.60" y2="848.30" stroke="#d3d3d3" stroke-width="1.6" stroke-dasharray="3.3 4.7" stroke-dashoffset="0.95"/>
<line x1="111.70" y1="805.50" x2="608.30" y2="805.50" stroke="#d3d3d3" stroke-width="1.6" stroke-dasharray="3.3 4.7" stroke-dashoffset="0.95"/>
<line x1="111.70" y1="743.05" x2="608.30" y2="743.05" stroke="#d3d3d3" stroke-width="1.6" stroke-dasharray="3.3 4.7" stroke-dashoffset="0.95"/>
<line x1="111.70" y1="680.60" x2="608.30" y2="680.60" stroke="#d3d3d3" stroke-width="1.6" stroke-dasharray="3.3 4.7" stroke-dashoffset="0.95"/>
<line x1="111.70" y1="618.15" x2="608.30" y2="618.15" stroke="#d3d3d3" stroke-width="1.6" stroke-dasharray="3.3 4.7" stroke-dashoffset="0.95"/>
<line x1="111.70" y1="555.70" x2="608.30" y2="555.70" stroke="#d3d3d3" stroke-width="1.6" stroke-dasharray="3.3 4.7" stroke-dashoffset="0.95"/>
<g id="bl-iso"><g clip-path="url(#blclip)"><line x1="54.6" y1="848.3" x2="116.1" y2="543.7" stroke="#808080" stroke-width="1.9"/><line x1="130.6" y1="848.3" x2="192.1" y2="543.7" stroke="#808080" stroke-width="1.9"/><line x1="206.6" y1="848.3" x2="268.1" y2="543.7" stroke="#808080" stroke-width="1.9"/><line x1="282.6" y1="848.3" x2="344.1" y2="543.7" stroke="#808080" stroke-width="1.9"/><line x1="358.6" y1="848.3" x2="420.1" y2="543.7" stroke="#808080" stroke-width="1.9"/><line x1="434.6" y1="848.3" x2="496.1" y2="543.7" stroke="#808080" stroke-width="1.9"/><line x1="510.6" y1="848.3" x2="572.1" y2="543.7" stroke="#808080" stroke-width="1.9"/><line x1="586.6" y1="848.3" x2="648.1" y2="543.7" stroke="#808080" stroke-width="1.9"/></g></g>
<text transform="translate(116.10 536.90) scale(1 1.0)" font-size="19.6" fill="#808080" text-anchor="middle">22.4</text>
<text transform="translate(192.10 536.90) scale(1 1.0)" font-size="19.6" fill="#808080" text-anchor="middle">22.5</text>
<text transform="translate(268.10 536.90) scale(1 1.0)" font-size="19.6" fill="#808080" text-anchor="middle">22.6</text>
<text transform="translate(344.10 536.90) scale(1 1.0)" font-size="19.6" fill="#808080" text-anchor="middle">22.7</text>
<text transform="translate(420.10 536.90) scale(1 1.0)" font-size="19.6" fill="#808080" text-anchor="middle">22.8</text>
<text transform="translate(496.10 536.90) scale(1 1.0)" font-size="19.6" fill="#808080" text-anchor="middle">22.9</text>
<text transform="translate(572.10 536.90) scale(1 1.0)" font-size="19.6" fill="#808080" text-anchor="middle">23</text>
<text transform="translate(633.40 743.20) rotate(-90) scale(1 1.0)" font-size="19.6" fill="#808080" text-anchor="middle">23.1</text>
<rect x="111.70" y="543.70" width="496.60" height="304.60" stroke="#000" stroke-width="2.2" fill="none"/>
<line x1="136.90" y1="848.30" x2="136.90" y2="864.90" stroke="#000" stroke-width="1.8"/>
<text transform="translate(136.90 895.90) scale(1 1.05)" font-size="26.67" fill="#000" text-anchor="middle">35.4</text>
<line x1="251.33" y1="848.30" x2="251.33" y2="864.90" stroke="#000" stroke-width="1.8"/>
<text transform="translate(251.33 895.90) scale(1 1.05)" font-size="26.67" fill="#000" text-anchor="middle">35.6</text>
<line x1="365.75" y1="848.30" x2="365.75" y2="864.90" stroke="#000" stroke-width="1.8"/>
<text transform="translate(365.75 895.90) scale(1 1.05)" font-size="26.67" fill="#000" text-anchor="middle">35.8</text>
<line x1="480.18" y1="848.30" x2="480.18" y2="864.90" stroke="#000" stroke-width="1.8"/>
<text transform="translate(480.18 895.90) scale(1 1.05)" font-size="26.67" fill="#000" text-anchor="middle">36.0</text>
<line x1="594.60" y1="848.30" x2="594.60" y2="864.90" stroke="#000" stroke-width="1.8"/>
<text transform="translate(594.60 895.90) scale(1 1.05)" font-size="26.67" fill="#000" text-anchor="middle">36.2</text>
<text transform="translate(360.00 937.60) scale(1 1.05)" font-size="26.67" fill="#000" text-anchor="middle">Salinity</text>
<line x1="95.10" y1="805.50" x2="111.70" y2="805.50" stroke="#000" stroke-width="1.8"/>
<line x1="95.10" y1="743.05" x2="111.70" y2="743.05" stroke="#000" stroke-width="1.8"/>
<line x1="95.10" y1="680.60" x2="111.70" y2="680.60" stroke="#000" stroke-width="1.8"/>
<line x1="95.10" y1="618.15" x2="111.70" y2="618.15" stroke="#000" stroke-width="1.8"/>
<line x1="95.10" y1="555.70" x2="111.70" y2="555.70" stroke="#000" stroke-width="1.8"/>
<text transform="translate(83.40 805.50) rotate(-90) scale(1 1.05)" font-size="26.67" fill="#000" text-anchor="middle">28.60</text>
<text transform="translate(83.40 680.60) rotate(-90) scale(1 1.05)" font-size="26.67" fill="#000" text-anchor="middle">28.70</text>
<text transform="translate(83.40 555.70) rotate(-90) scale(1 1.05)" font-size="26.67" fill="#000" text-anchor="middle">28.80</text>
<text transform="translate(35.70 696.00) rotate(-90) scale(1 1.05)" font-size="26.67" fill="#000" text-anchor="middle">θ [ °C ]</text>
<polygon points="993.2,543.7 1280.3,543.7 1280.3,848.3 1158,848.3" fill="#d3d3d3"/>
<circle cx="1032" cy="695.9" r="7" fill="#ff0000"/>
<rect x="783.50" y="543.70" width="496.80" height="304.60" stroke="#000" stroke-width="2.2" fill="none"/>
<line x1="888.40" y1="848.30" x2="888.40" y2="864.90" stroke="#000" stroke-width="1.8"/>
<line x1="888.40" y1="543.70" x2="888.40" y2="527.10" stroke="#000" stroke-width="1.8"/>
<text transform="translate(888.40 895.90) scale(1 1.05)" font-size="26.67" fill="#000" text-anchor="middle">-83</text>
<line x1="995.60" y1="848.30" x2="995.60" y2="864.90" stroke="#000" stroke-width="1.8"/>
<line x1="995.60" y1="543.70" x2="995.60" y2="527.10" stroke="#000" stroke-width="1.8"/>
<text transform="translate(995.60 895.90) scale(1 1.05)" font-size="26.67" fill="#000" text-anchor="middle">-82.5</text>
<line x1="1102.80" y1="848.30" x2="1102.80" y2="864.90" stroke="#000" stroke-width="1.8"/>
<line x1="1102.80" y1="543.70" x2="1102.80" y2="527.10" stroke="#000" stroke-width="1.8"/>
<text transform="translate(1102.80 895.90) scale(1 1.05)" font-size="26.67" fill="#000" text-anchor="middle">-82</text>
<line x1="1210.00" y1="848.30" x2="1210.00" y2="864.90" stroke="#000" stroke-width="1.8"/>
<line x1="1210.00" y1="543.70" x2="1210.00" y2="527.10" stroke="#000" stroke-width="1.8"/>
<text transform="translate(1210.00 895.90) scale(1 1.05)" font-size="26.67" fill="#000" text-anchor="middle">-81.5</text>
<line x1="766.90" y1="588.00" x2="783.50" y2="588.00" stroke="#000" stroke-width="1.8"/>
<line x1="1280.30" y1="588.00" x2="1296.90" y2="588.00" stroke="#000" stroke-width="1.8"/>
<text transform="translate(755.40 588.00) rotate(-90) scale(1 1.05)" font-size="26.67" fill="#000" text-anchor="middle">27</text>
<line x1="766.90" y1="707.75" x2="783.50" y2="707.75" stroke="#000" stroke-width="1.8"/>
<line x1="1280.30" y1="707.75" x2="1296.90" y2="707.75" stroke="#000" stroke-width="1.8"/>
<text transform="translate(755.40 707.75) rotate(-90) scale(1 1.05)" font-size="26.67" fill="#000" text-anchor="middle">26.5</text>
<line x1="766.90" y1="827.50" x2="783.50" y2="827.50" stroke="#000" stroke-width="1.8"/>
<line x1="1280.30" y1="827.50" x2="1296.90" y2="827.50" stroke="#000" stroke-width="1.8"/>
<text transform="translate(755.40 827.50) rotate(-90) scale(1 1.05)" font-size="26.67" fill="#000" text-anchor="middle">26</text>
<text transform="translate(784.00 521.60) scale(1 1.05)" font-size="26.67" fill="#000" text-anchor="start">RP3</text>
<text transform="translate(1279.40 521.60) scale(1 1.05)" font-size="26.67" fill="#000" text-anchor="end">2024-05-20 11:52:44</text>
</svg></body></html>
